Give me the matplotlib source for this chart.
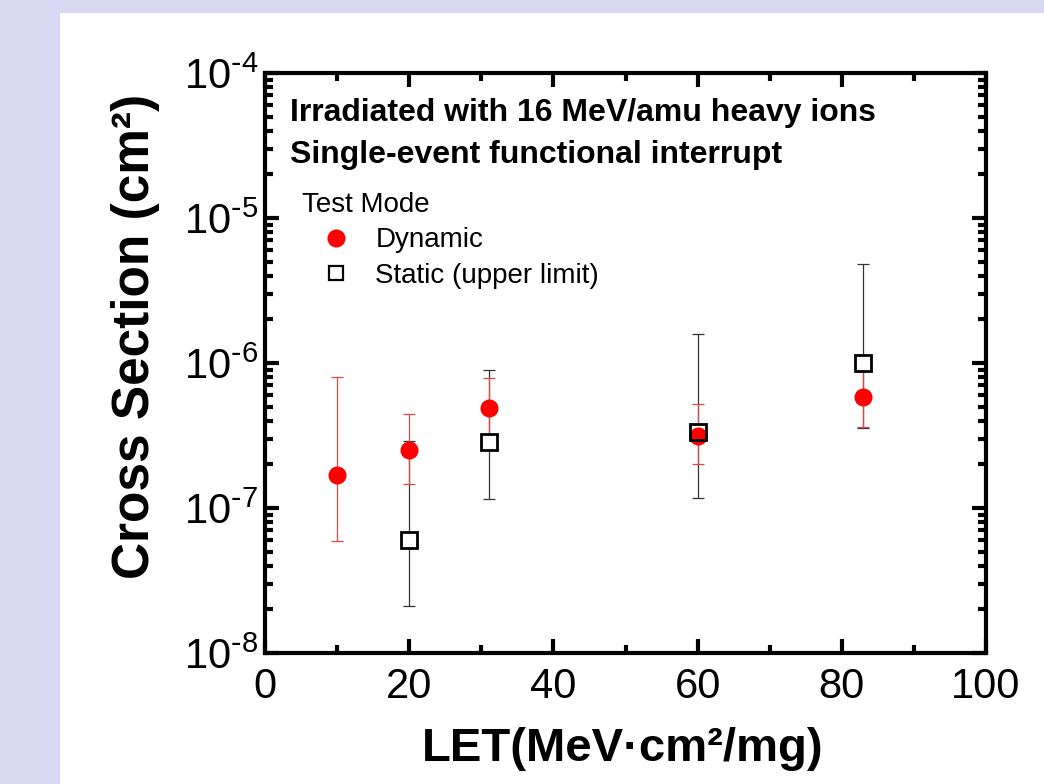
import numpy as np
import matplotlib
matplotlib.use("Agg")
import matplotlib.pyplot as plt
from matplotlib.patches import Rectangle
from matplotlib.ticker import LogLocator, FuncFormatter, MultipleLocator

plt.rcParams['font.family'] = ['Liberation Sans', 'DejaVu Sans']
plt.rcParams['mathtext.default'] = 'regular'
plt.rcParams['axes.unicode_minus'] = False

# Dynamic test mode
dyn_let = [10, 20, 31, 60, 83]
dyn_cs = [1.69e-7, 2.5e-7, 4.9e-7, 3.15e-7, 5.85e-7]
dyn_lo = [5.9e-8, 1.47e-7, 3.0e-7, 2.0e-7, 3.6e-7]
dyn_hi = [8.0e-7, 4.45e-7, 7.9e-7, 5.2e-7, 9.6e-7]

# Static test mode (upper limit)
sta_let = [20, 31, 60, 83]
sta_cs = [6.0e-8, 2.87e-7, 3.35e-7, 1.0e-6]
sta_lo = [2.1e-8, 1.15e-7, 1.17e-7, 3.55e-7]
sta_hi = [2.9e-7, 9.0e-7, 1.58e-6, 4.8e-6]

fig = plt.figure(figsize=(10.44, 7.84), dpi=100)
fig.patch.set_facecolor('#d8d8f2')
fig.patches.append(Rectangle((60 / 1044, 0), 1, 1 - 13 / 784, transform=fig.transFigure,
                             facecolor='white', edgecolor='none', zorder=-5))

ax = fig.add_axes([265 / 1044, 1 - 653 / 784, 721 / 1044, 580 / 784])
ax.set_facecolor('white')

dyn_err = [np.array(dyn_cs) - np.array(dyn_lo), np.array(dyn_hi) - np.array(dyn_cs)]
sta_err = [np.array(sta_cs) - np.array(sta_lo), np.array(sta_hi) - np.array(sta_cs)]

ax.errorbar(sta_let, sta_cs, yerr=sta_err, fmt='none', ecolor='#333333', elinewidth=0.9,
            capsize=4.5, capthick=0.9, zorder=1)
ax.errorbar(dyn_let, dyn_cs, yerr=dyn_err, fmt='none', ecolor='#e04848', elinewidth=0.9,
            capsize=4.5, capthick=0.9, zorder=1.5)

# white square faces first, then circles, then square outlines on top
ax.plot(sta_let, sta_cs, 's', ms=11, mfc='white', mec='none', zorder=2)
h_dyn, = ax.plot(dyn_let, dyn_cs, 'o', ms=13, color='#ff0000', mec='none', zorder=3,
                 label='Dynamic')
h_sta, = ax.plot(sta_let, sta_cs, 's', ms=11, mfc='none', mec='black', mew=2, zorder=4,
                 label='Static (upper limit)')

ax.set_yscale('log')
ax.set_xlim(0, 100)
ax.set_ylim(1e-8, 1e-4)

ax.xaxis.set_major_locator(MultipleLocator(20))
ax.xaxis.set_minor_locator(MultipleLocator(10))
ax.yaxis.set_major_locator(LogLocator(base=10, numticks=10))
ax.yaxis.set_minor_locator(LogLocator(base=10, subs=np.arange(2, 10), numticks=10))
ax.yaxis.set_major_formatter(
    FuncFormatter(lambda v, p: r'$10^{\text{-}%d}$' % abs(round(np.log10(v)))))

ax.tick_params(which='both', direction='in', top=True, right=True, width=3, labelsize=30)
ax.tick_params(which='major', length=10)
ax.tick_params(which='minor', length=6)
ax.tick_params(axis='x', pad=10)
ax.tick_params(axis='y', pad=5)
for s in ax.spines.values():
    s.set_linewidth(3)

ax.set_xlabel('LET(MeV·cm²/mg)', fontsize=34, fontweight='bold', va='center')
ax.xaxis.set_label_coords(0.4965, -0.165)
ax.set_ylabel('Cross Section (cm²)', fontsize=37, fontweight='bold', va='center')
ax.yaxis.set_label_coords(-0.179, 0.545)

ax.text(0.035, (653 - 113) / 580, 'Irradiated with 16 MeV/amu heavy ions',
        transform=ax.transAxes, fontsize=23, fontweight='bold', va='center', ha='left')
ax.text(0.035, (653 - 155) / 580, 'Single-event functional interrupt',
        transform=ax.transAxes, fontsize=23, fontweight='bold', va='center', ha='left')

leg = ax.legend(handles=[h_dyn, h_sta], title='Test Mode', loc='upper left',
                bbox_to_anchor=(0.051, 0.795), frameon=False, fontsize=20,
                title_fontsize=20, alignment='left', handletextpad=0.15,
                labelspacing=0.34, borderaxespad=0, borderpad=0, handlelength=2.5)
leg.legend_handles[0].set_markersize(13)
leg.legend_handles[1].set_markersize(10)
leg.legend_handles[1].set_markeredgewidth(1.6)

fig.savefig('out.png', dpi=100, facecolor=fig.get_facecolor())
